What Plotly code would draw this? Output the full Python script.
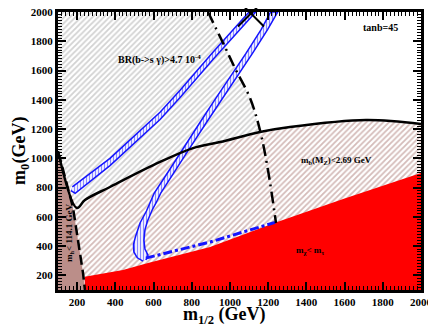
import plotly.graph_objects as go

# --- data (GeV) ---
# solid black curve: m_b(M_Z) = 2.69 GeV boundary
mb_x = [100, 199, 241, 372, 634, 807, 948, 1157, 1314, 1712, 2000]
mb_y = [1050, 660, 715, 804, 975, 1070, 1111, 1180, 1214, 1262, 1235]

# dashed black line: m_h = 114.1 GeV
mh_x = [100, 110, 178, 205, 231, 241]
mh_y = [1040, 1002, 667, 441, 216, 100]

# dash-dot black line: BR(b->s gamma) = 4.7e-4
bsg_x = [885, 964, 1026, 1105, 1157, 1199, 1241]
bsg_y = [2000, 1788, 1617, 1412, 1193, 920, 558]

# stau LSP boundary
stau_x = [240, 440, 571, 896, 1236, 1600, 2000]
stau_y = [190, 237, 284, 394, 560, 725, 900]

# WMAP band 1 (upper strip)
band1_x = [175, 372, 634, 739, 911, 1100, 1135, 911, 739, 634, 372, 190, 168]
band1_y = [805, 1000, 1315, 1465, 1725, 2000, 2000, 1675, 1415, 1265, 950, 760, 780]

# WMAP band 2 (loop)
band2_x = [545, 515, 497, 495, 505, 530, 563, 603, 683, 763, 843, 923, 1003, 1083, 1163, 1213,
           1250, 1197, 1117, 1037, 957, 877, 797, 717, 637, 615, 593, 568, 555, 550, 555, 571, 560]
band2_y = [298, 320, 360, 410, 462, 560, 640, 760, 920, 1085, 1245, 1405, 1560, 1715, 1880, 2000,
           2000, 1880, 1715, 1560, 1405, 1245, 1085, 920, 760, 700, 647, 570, 510, 440, 380, 339, 305]

# blue dash-dot coannihilation edge
coan_x = [560, 896, 1236]
coan_y = [318, 428, 562]

ticks = [200, 400, 600, 800, 1000, 1200, 1400, 1600, 1800, 2000]

SERIF = "Liberation Serif"
BLUE = 'rgb(20,20,255)'
fig = go.Figure()

# grey hatched b->s gamma region
grey_x = [100, 100] + bsg_x[:5] + [1157, 948, 807, 634, 372, 241, 199, 100]
grey_y = [1050, 2000] + bsg_y[:5] + [1180, 1111, 1070, 975, 804, 715, 660, 1050]
fig.add_trace(go.Scatter(
    x=grey_x, y=grey_y, mode='lines', fill='toself', line=dict(width=0),
    fillcolor='white',
    fillpattern=dict(shape='/', fgcolor='rgb(165,165,165)', bgcolor='white', size=4, solidity=0.45),
    hoverinfo='skip'))

# brown hatched m_b region
fig.add_trace(go.Scatter(
    x=mb_x + [2000, 100], y=mb_y + [100, 100], mode='lines', fill='toself', line=dict(width=0),
    fillcolor='white',
    fillpattern=dict(shape='/', fgcolor='rgb(170,120,115)', bgcolor='white', size=4, solidity=0.45),
    hoverinfo='skip'))

# red stau region
fig.add_trace(go.Scatter(
    x=stau_x + [2000, 240], y=stau_y + [100, 100], mode='lines', fill='toself',
    line=dict(width=0), fillcolor='rgb(255,0,0)', hoverinfo='skip'))

# brown solid m_h region
fig.add_trace(go.Scatter(
    x=mh_x + [100], y=mh_y + [100], mode='lines', fill='toself',
    line=dict(width=0), fillcolor='rgb(187,142,137)', hoverinfo='skip'))

# WMAP bands
for bx, by in [(band1_x, band1_y), (band2_x, band2_y)]:
    fig.add_trace(go.Scatter(
        x=bx, y=by, mode='lines', fill='toself',
        line=dict(color=BLUE, width=1.5), fillcolor='white',
        fillpattern=dict(shape='|', fgcolor=BLUE, bgcolor='white', size=3, solidity=0.45),
        hoverinfo='skip'))

fig.add_trace(go.Scatter(x=coan_x, y=coan_y, mode='lines',
                         line=dict(color=BLUE, width=3, dash='dashdot')))

# boundary lines
fig.add_trace(go.Scatter(x=mb_x, y=mb_y, mode='lines', line=dict(color='black', width=2.5, shape='spline')))
fig.add_trace(go.Scatter(x=mh_x, y=mh_y, mode='lines', line=dict(color='black', width=2.5, dash='10px,5px')))
fig.add_trace(go.Scatter(x=bsg_x, y=bsg_y, mode='lines',
                         line=dict(color='black', width=2.5, dash='12px,5px,2px,5px', shape='spline')))

# cross marker
fig.add_trace(go.Scatter(x=[1110], y=[1990], mode='markers', cliponaxis=False,
                         marker=dict(symbol='x-thin', size=26, line=dict(color='black', width=2))))

ann = dict(showarrow=False, font=dict(family=SERIF, size=10, color='black', weight='bold'))
small = dict(showarrow=False, font=dict(family=SERIF, size=9, color='black', weight='bold'))
fig.add_annotation(x=629, y=1672, text='BR(b->s γ)>4.7 10<sup>-4</sup>', **ann)
fig.add_annotation(x=1790, y=1897, text='tanb=45', **ann)
fig.add_annotation(x=1560, y=988, text='m<sub>b</sub>(M<sub>Z</sub>)<2.69 GeV', **small)
fig.add_annotation(x=1419, y=373, text='m<sub>χ</sub>< m<sub>τ</sub>', **small)
fig.add_annotation(x=163, y=490, text='m<sub>h</sub>< 114.1 GeV', textangle=-90, **small)

# axis titles as paper annotations so they sit where the reference has them
fig.add_annotation(x=0.46, y=-0.092, xref='paper', yref='paper', yanchor='middle',
                   text='m<sub>1/2</sub> (GeV)', showarrow=False,
                   font=dict(family=SERIF, size=18, color='black', weight='bold'))
fig.add_annotation(x=-0.105, y=0.5, xref='paper', yref='paper', xanchor='center',
                   text='m<sub>0</sub>(GeV)', showarrow=False, textangle=-90,
                   font=dict(family=SERIF, size=18, color='black', weight='bold'))

axis = dict(range=[100, 2000], tickvals=ticks, ticks='inside', ticklen=8, tickwidth=2,
            tickcolor='black', showline=True, linecolor='black', linewidth=3, mirror='allticks',
            showgrid=False, zeroline=False, automargin=False, ticklabeloverflow='allow',
            tickfont=dict(family=SERIF, size=11, color='black', weight='bold'),
            minor=dict(dtick=20, ticks='inside', ticklen=4, tickwidth=1, tickcolor='black'))

# the page body adds an 8px offset, so the figure is sized to land on the reference frame
fig.update_layout(
    width=428, height=319, margin=dict(l=50, r=15, t=4, b=37),
    paper_bgcolor='white', plot_bgcolor='white', showlegend=False,
    xaxis=dict(axis), yaxis=dict(axis),
)

fig.write_html("out.html")
